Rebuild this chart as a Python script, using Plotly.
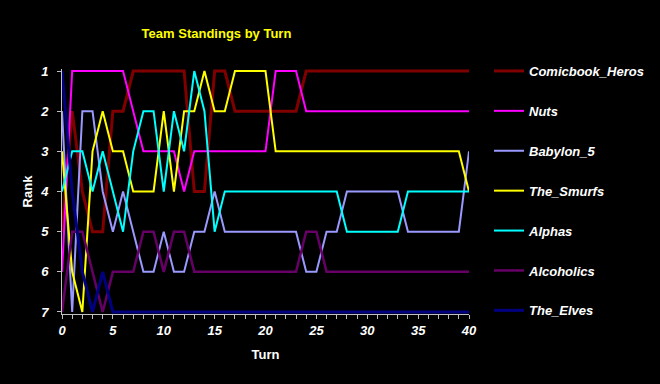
import plotly.graph_objects as go

turns = list(range(41))

teams = ["Comicbook_Heros", "Nuts", "Babylon_5", "The_Smurfs", "Alphas", "Alcoholics", "The_Elves"]

comicbook_heros = [5, 2, 4, 5, 5, 2, 2, 1, 1, 1, 1, 1, 1, 4, 4, 1, 1,
                   2, 2, 2, 2, 2, 2, 2,
                   1, 1, 1, 1, 1, 1, 1, 1, 1, 1, 1, 1, 1, 1, 1, 1, 1]
nuts = [6, 1, 1, 1, 1, 1, 1, 2, 3, 3, 3, 3, 4, 3, 3, 3, 3,
        3, 3, 3, 3, 1, 1, 1,
        2, 2, 2, 2, 2, 2, 2, 2, 2, 2, 2, 2, 2, 2, 2, 2, 2]
babylon_5 = [2, 7, 2, 2, 4, 5, 4, 5, 6, 6, 5, 6, 6, 5, 5, 4,
             5, 5, 5, 5, 5, 5, 5, 5,
             6, 6, 5, 5,
             4, 4, 4, 4, 4, 4,
             5, 5, 5, 5, 5, 5, 3]
the_smurfs = [3, 6, 7, 3, 2, 3, 3, 4, 4, 4, 2, 4, 2, 2, 1, 2, 2,
              1, 1, 1, 1,
              3, 3, 3, 3, 3, 3, 3, 3, 3, 3, 3, 3, 3, 3, 3, 3, 3, 3, 3, 4]
alphas = [4, 3, 3, 4, 3, 4, 5, 3, 2, 2, 4, 2, 3, 1, 2, 5,
          4, 4, 4, 4, 4, 4, 4, 4, 4, 4, 4, 4,
          5, 5, 5, 5, 5, 5,
          4, 4, 4, 4, 4, 4, 4]
alcoholics = [7, 5, 5, 6, 7, 6, 6, 6, 5, 5, 6, 5, 5,
              6, 6, 6, 6, 6, 6, 6, 6, 6, 6, 6,
              5, 5,
              6, 6, 6, 6, 6, 6, 6, 6, 6, 6, 6, 6, 6, 6, 6]
the_elves = [1, 4, 6, 7, 6] + [7] * 36

series = [comicbook_heros, nuts, babylon_5, the_smurfs, alphas, alcoholics, the_elves]
colors = ["#800000", "#FF00FF", "#9999FF", "#FFFF00", "#00FFFF", "#660066", "#000080"]
widths = [3, 2, 2, 2, 2, 2.5, 3]

rank_ticks = [1, 2, 3, 4, 5, 6, 7]
turn_ticks = [0, 5, 10, 15, 20, 25, 30, 35, 40]

FONT = "Liberation Sans, Arial, sans-serif"

fig = go.Figure()
for name, vals, col, w in zip(teams, series, colors, widths):
    fig.add_trace(go.Scatter(x=turns, y=vals, mode="lines", name=name,
                             legendgroup=name,
                             line=dict(color=col, width=w)))

axis_col = "#C0C0C0"
fig.update_layout(
    width=660, height=384,
    margin=dict(l=62, r=187, t=69, b=70),
    paper_bgcolor="black", plot_bgcolor="black",
    title=dict(text="Team Standings by Turn", xref="container", yref="container",
               x=216.5 / 660, y=1 - 33 / 384, xanchor="center", yanchor="middle",
               font=dict(family=FONT, size=13, color="#FFFF00", weight="bold")),
    showlegend=True,
    legend=dict(xref="container", yref="container", x=489 / 660, y=1 - 56 / 384,
                xanchor="left", yanchor="top", bgcolor="black", maxheight=380,
                font=dict(family=FONT, size=13, color="white", weight="bold", style="italic"),
                tracegroupgap=20, traceorder="grouped"),
    xaxis=dict(range=[0, 40], tickvals=turn_ticks, ticks="outside", ticklen=4,
               tickcolor=axis_col, showline=True, linecolor=axis_col, linewidth=1,
               showgrid=False, zeroline=False,
               minor=dict(dtick=1, ticks="outside", ticklen=4, tickcolor=axis_col, showgrid=False),
               tickfont=dict(family=FONT, size=13, color="white", weight="bold", style="italic"),
               title=dict(text="Turn", standoff=13,
                          font=dict(family=FONT, size=13, color="white", weight="bold"))),
    yaxis=dict(range=[7.05, 0.95], tickvals=rank_ticks, ticks="outside", ticklen=4,
               tickcolor=axis_col, showline=True, linecolor=axis_col, linewidth=1,
               showgrid=False, zeroline=False, ticklabelstandoff=6,
               tickfont=dict(family=FONT, size=13, color="white", weight="bold", style="italic"),
               title=dict(text="Rank", standoff=4,
                          font=dict(family=FONT, size=13, color="white", weight="bold"))),
)

fig.write_html("out.html")
